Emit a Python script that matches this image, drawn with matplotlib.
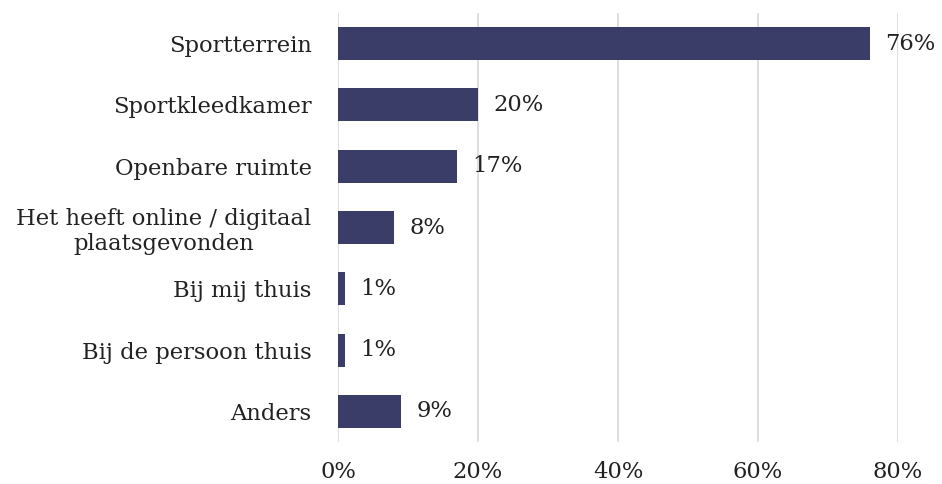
import numpy as np
import matplotlib
matplotlib.use("Agg")
import matplotlib.pyplot as plt

plt.rcParams['font.family'] = ['DejaVu Serif']

categories = ["Sportterrein", "Sportkleedkamer", "Openbare ruimte",
              "Het heeft online / digitaal\nplaatsgevonden", "Bij mij thuis",
              "Bij de persoon thuis", "Anders"]
values = [76, 20, 17, 8, 1, 1, 9]
ticks = [0, 20, 40, 60, 80]

kleur = "#393d68"
fs = 16.3

fig = plt.figure(figsize=(9.42, 4.84), dpi=100)
ax = fig.add_axes([338/942, 1-442/484, (898-338)/942, (442-13)/484])

y = np.arange(len(categories))
ax.barh(y, values, height=0.54, color=kleur, zorder=3)
for yi, v in zip(y, values):
    ax.text(v + 2.2, yi, "%d%%" % v, va="center", ha="left", fontsize=fs, color="#222222")

ax.set_ylim(len(categories) - 0.5, -0.5)
ax.set_xlim(0, 80)
ax.set_yticks(y)
ax.set_yticklabels(categories, fontsize=fs, color="#222222", multialignment="center")
ax.set_xticks(ticks)
ax.set_xticklabels(["%d%%" % t for t in ticks], fontsize=fs, color="#222222")
ax.tick_params(axis="y", length=0, pad=19)
ax.tick_params(axis="x", length=0, pad=14)
ax.grid(axis="x", color="#d9d9d9", linewidth=1.2, zorder=0)
for s in ax.spines.values():
    s.set_visible(False)

plt.savefig("out.png", dpi=100)
